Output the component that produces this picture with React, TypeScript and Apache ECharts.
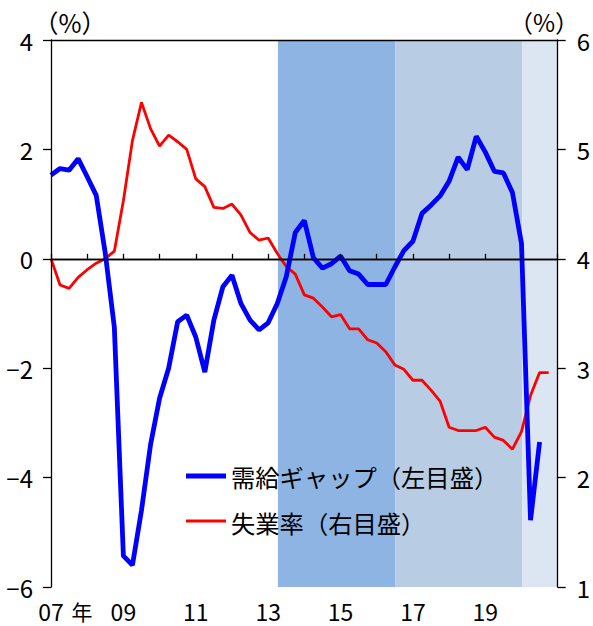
import React, { useEffect, useRef } from "react";
import * as echarts from "echarts";

// quarterly data, 2007 Q1 onward
const startYear = 2007;
const gapValues = [
  1.53, 1.65, 1.62, 1.83,
  1.5, 1.16, 0.1, -1.25,
  -5.43, -5.6, -4.6, -3.4,
  -2.55, -2.0, -1.15, -1.03,
  -1.43, -2.07, -1.12, -0.51,
  -0.3, -0.82, -1.12, -1.3,
  -1.17, -0.82, -0.33, 0.48,
  0.7, 0.02, -0.17, -0.09,
  0.05, -0.22, -0.28, -0.47,
  -0.47, -0.47, -0.15, 0.15,
  0.32, 0.83, 0.98, 1.15,
  1.42, 1.86, 1.63, 2.24,
  1.95, 1.6, 1.57, 1.21,
  0.28, -4.78, -3.35,
];
const unempValues = [
  4.0, 3.76, 3.73, 3.83,
  3.9, 3.96, 4.0, 4.07,
  4.53, 5.08, 5.43, 5.19,
  5.03, 5.13, 5.07, 5.0,
  4.73, 4.66, 4.47, 4.46,
  4.5, 4.4, 4.24, 4.17,
  4.19, 4.05, 3.93, 3.86,
  3.67, 3.64, 3.56, 3.47,
  3.49, 3.36, 3.36, 3.26,
  3.23, 3.15, 3.03, 2.99,
  2.89, 2.89, 2.8, 2.7,
  2.46, 2.43, 2.43, 2.43,
  2.46, 2.37, 2.34, 2.26,
  2.42, 2.75, 2.96, 2.96,
];
const xLabelYears = [2007, 2009, 2011, 2013, 2015, 2017, 2019];
const xLabelTexts = ["07", "09", "11", "13", "15", "17", "19"];
const shadeBounds = [2013.27, 2016.51, 2020.02, 2021];
const seriesNames = ["需給ギャップ（左目盛）", "失業率（右目盛）"];

const shadeColors = ["#8DB4E2", "#B8CCE4", "#DCE6F2"];
const FONT = "'Noto Sans CJK JP', sans-serif";

const toPairs = (vals: number[]) => vals.map((v, i) => [startYear + i / 4, v]);

export default function App() {
  const ref = useRef<HTMLDivElement>(null);
  useEffect(() => {
    document.body.style.margin = "0";
    if (!ref.current) return;
    const chart = echarts.init(ref.current, undefined, { renderer: "svg" });
    const areas = [];
    for (let i = 0; i < shadeBounds.length - 1; i++) {
      areas.push([
        { xAxis: shadeBounds[i], itemStyle: { color: shadeColors[i] } },
        { xAxis: shadeBounds[i + 1] },
      ]);
    }
    const axisLineStyle = { color: "#000", width: 1.3 };
    chart.setOption({
      animation: false,
      grid: { left: 51, right: 31, top: 40, bottom: 39 },
      xAxis: [
        {
          type: "value",
          min: 2007,
          max: 2021,
          interval: 1,
          z: 6,
          axisLine: { show: true, lineStyle: axisLineStyle },
          axisTick: { show: true, inside: true, length: 5, lineStyle: { color: "#000", width: 1.3 } },
          splitLine: { show: false },
          axisLabel: {
            margin: 12,
            fontSize: 23,
            color: "#000",
            fontFamily: FONT,
            formatter: (v: number) => {
              const k = xLabelYears.indexOf(Math.round(v));
              return k >= 0 ? xLabelTexts[k] : "";
            },
          },
        },
        {
          type: "value",
          position: "top",
          min: 2007,
          max: 2021,
          z: 6,
          axisLine: { show: true, onZero: false, lineStyle: axisLineStyle },
          axisTick: { show: false },
          axisLabel: { show: false },
          splitLine: { show: false },
        },
      ],
      yAxis: [
        {
          type: "value",
          min: -6,
          max: 4,
          interval: 2,
          z: 6,
          axisLine: { show: true, lineStyle: axisLineStyle },
          axisTick: { show: true, length: 8, lineStyle: { color: "#000", width: 1.3 } },
          splitLine: { show: false },
          axisLabel: {
            margin: 18,
            fontSize: 24,
            color: "#000",
            fontFamily: FONT,
            formatter: (v: number) => (v < 0 ? "−" + Math.abs(v) : String(v)),
          },
        },
        {
          type: "value",
          min: 1,
          max: 6,
          interval: 1,
          position: "right",
          z: 6,
          axisLine: { show: true, lineStyle: axisLineStyle },
          axisTick: { show: true, length: 8, lineStyle: { color: "#000", width: 1.3 } },
          splitLine: { show: false },
          axisLabel: {
            margin: 19,
            fontSize: 24,
            color: "#000",
            fontFamily: FONT,
          },
        },
      ],
      series: [
        {
          name: "shade",
          type: "line",
          data: [],
          z: 1,
          silent: true,
          markArea: { silent: true, data: areas },
        },
        {
          name: "zero",
          type: "line",
          data: [],
          z: 2,
          silent: true,
          markLine: {
            silent: true,
            symbol: "none",
            label: { show: false },
            lineStyle: { color: "#000", width: 1.3, type: "solid" },
            data: [{ yAxis: 0 }],
          },
        },
        {
          name: seriesNames[1],
          type: "line",
          yAxisIndex: 1,
          data: toPairs(unempValues),
          showSymbol: false,
          z: 4,
          lineStyle: { color: "#FF0000", width: 2.8 },
          itemStyle: { color: "#FF0000" },
        },
        {
          name: seriesNames[0],
          type: "line",
          yAxisIndex: 0,
          data: toPairs(gapValues),
          showSymbol: false,
          z: 5,
          lineStyle: { color: "#0000FF", width: 4.8 },
          itemStyle: { color: "#0000FF" },
        },
      ],
      graphic: {
        elements: [
          { type: "text", z: 100, x: 70, y: 22, style: { text: "（%）", fontSize: 25, fontFamily: FONT, fill: "#000", align: "center", verticalAlign: "middle" } },
          { type: "text", z: 100, x: 544, y: 21, style: { text: "（%）", fontSize: 24, fontFamily: FONT, fill: "#000", align: "center", verticalAlign: "middle" } },
          { type: "text", z: 100, x: 82, y: 611, style: { text: "年", fontSize: 21, fontFamily: FONT, fill: "#000", align: "center", verticalAlign: "middle" } },
          { type: "line", z: 100, shape: { x1: 186, y1: 476, x2: 226, y2: 476 }, style: { stroke: "#0000FF", lineWidth: 4.8 } },
          { type: "line", z: 100, shape: { x1: 186, y1: 521, x2: 226, y2: 521 }, style: { stroke: "#FF0000", lineWidth: 2.8 } },
          { type: "text", z: 100, x: 231, y: 476, style: { text: seriesNames[0], fontSize: 24.3, fontFamily: FONT, fill: "#000", verticalAlign: "middle" } },
          { type: "text", z: 100, x: 231, y: 522, style: { text: seriesNames[1], fontSize: 24.3, fontFamily: FONT, fill: "#000", verticalAlign: "middle" } },
        ],
      },
    });
    return () => chart.dispose();
  }, []);
  return <div ref={ref} style={{ width: 593, height: 626, background: "#fff" }} />;
}
